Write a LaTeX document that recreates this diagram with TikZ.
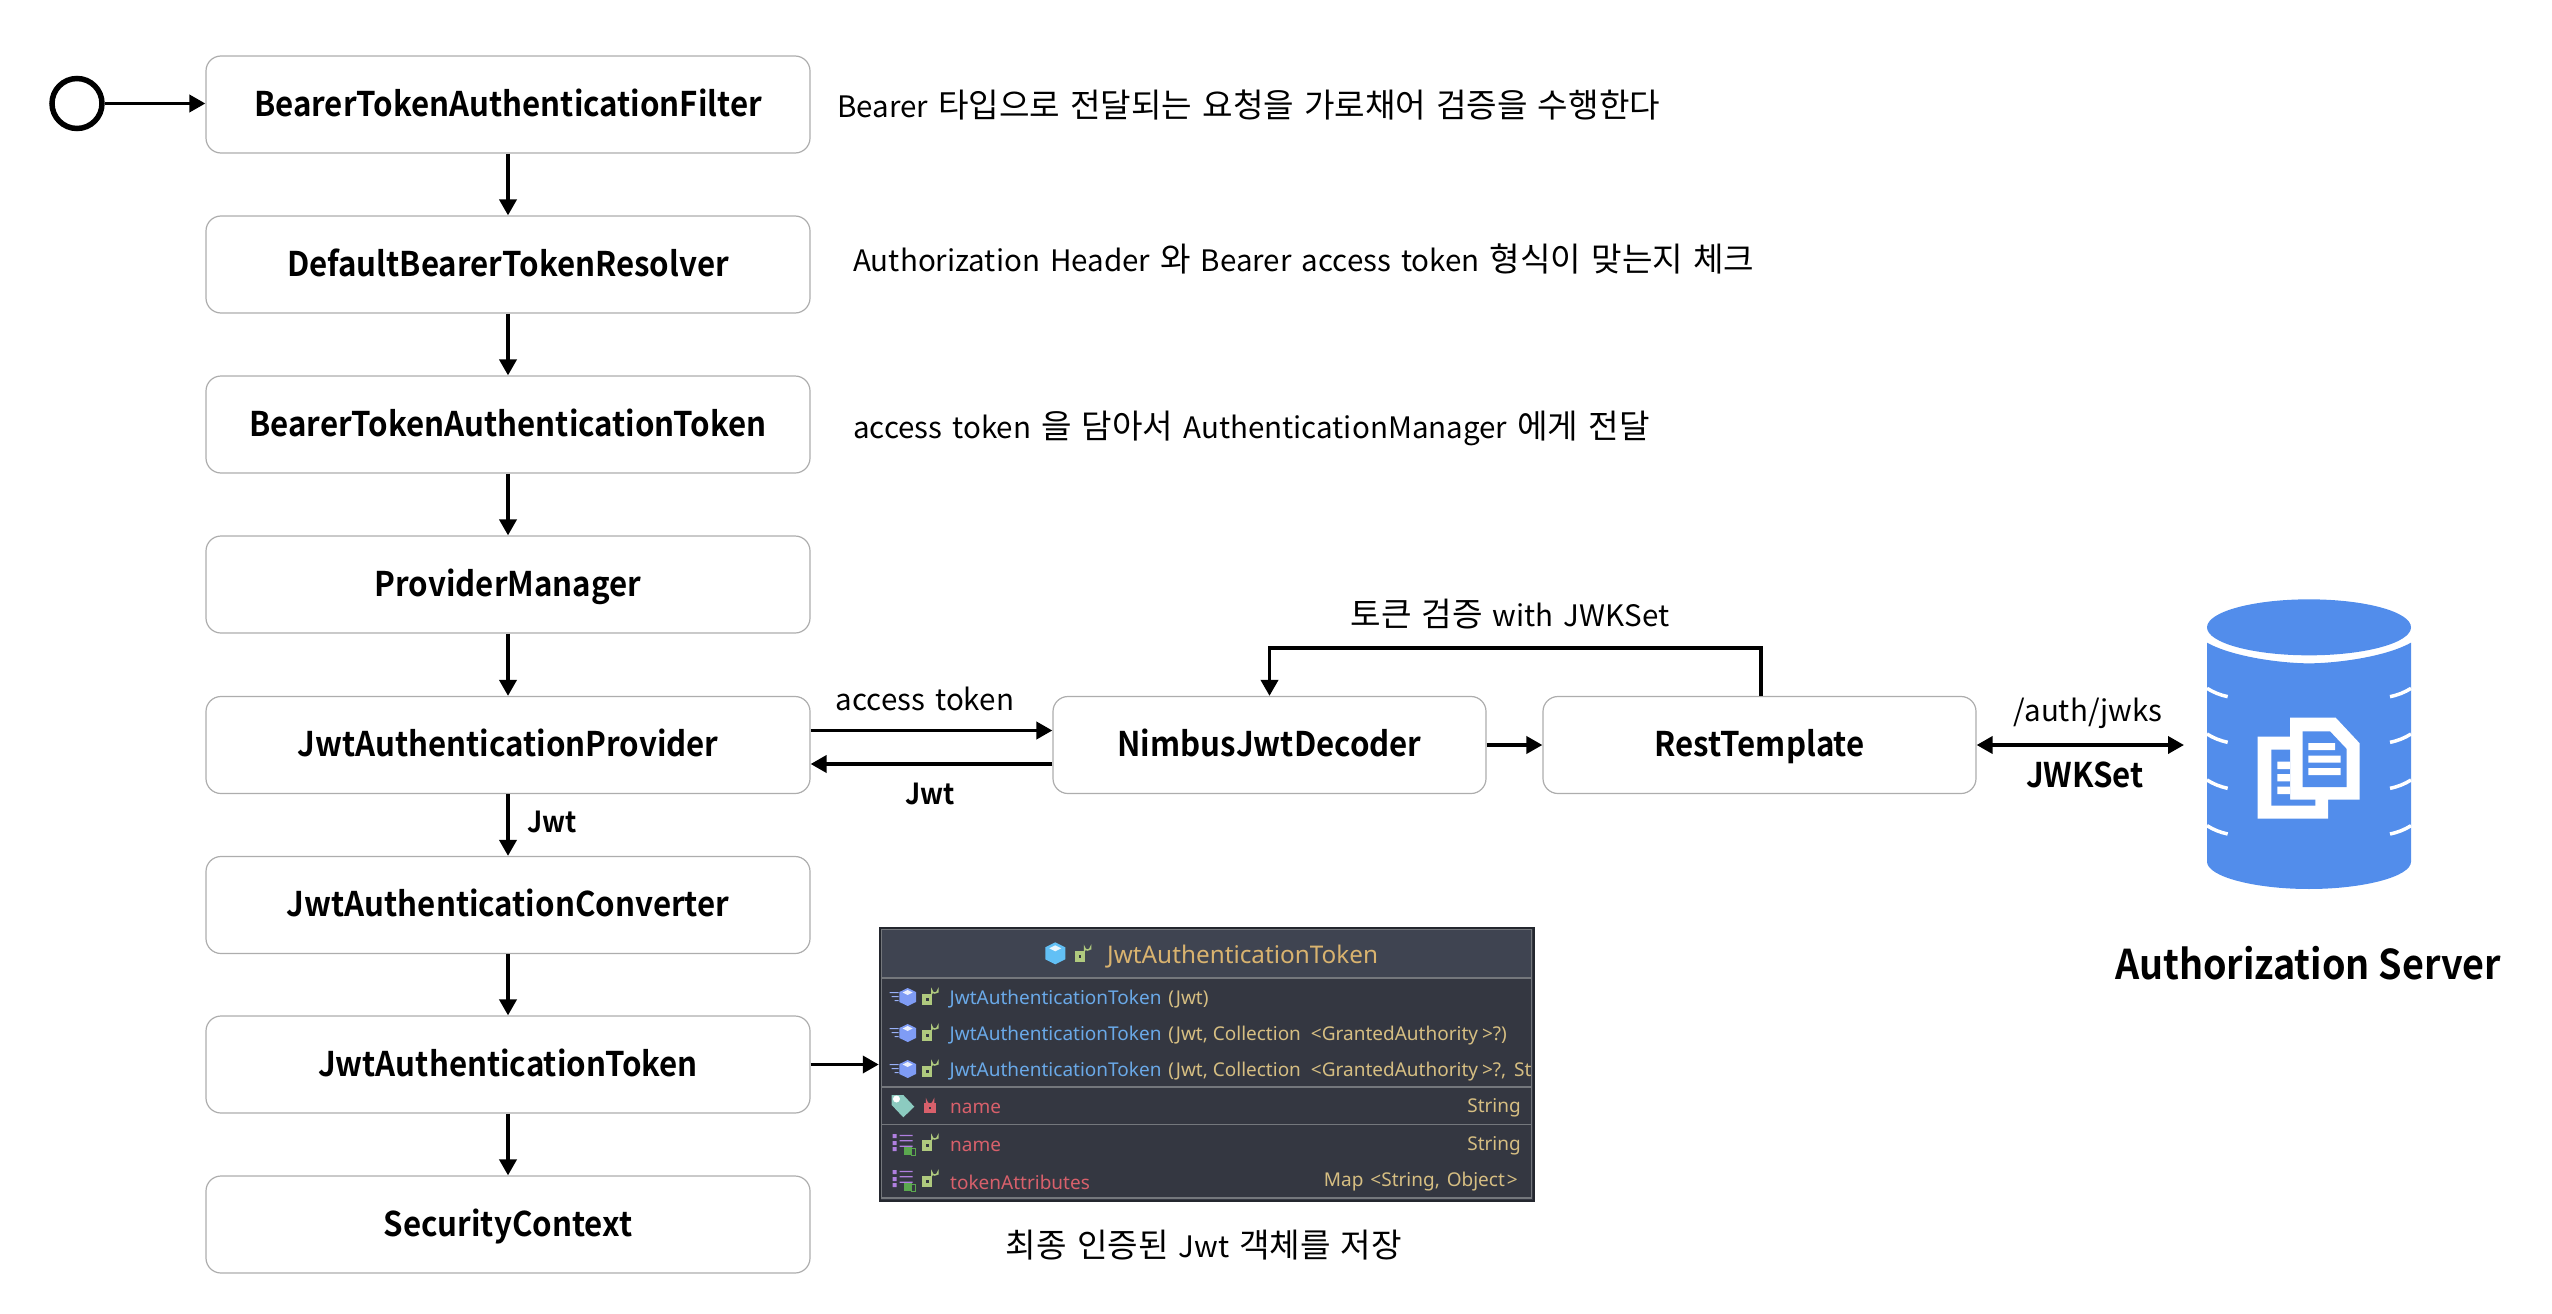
\documentclass[tikz,border=0pt]{standalone}
\usepackage{fontspec}
\setmainfont{Noto Sans CJK KR}
\newfontfamily\latf[Scale=0.89]{Noto Sans CJK KR}
\newfontfamily\bfam[FakeStretch=0.92]{Noto Sans CJK KR Bold}
\newfontfamily\panelfont{Noto Sans}
\usetikzlibrary{arrows.meta,calc}
\definecolor{dbblue}{HTML}{528DEB}
\definecolor{panelbody}{HTML}{343741}
\definecolor{panelhead}{HTML}{3F4451}
\definecolor{panelline}{HTML}{74777C}
\definecolor{ctor}{HTML}{6AA9E8}
\definecolor{tanc}{HTML}{D6BE82}
\definecolor{fieldred}{HTML}{D8606B}
\definecolor{titletan}{HTML}{D9B36F}
\definecolor{lockgreen}{HTML}{AFC97E}
\definecolor{cubea}{HTML}{62C0F5}
\definecolor{cubeb}{HTML}{7F9CF5}
\definecolor{purplei}{HTML}{B07FE0}
\definecolor{greeni}{HTML}{5BA84F}
\definecolor{tagc}{HTML}{8CCBC0}
\newcommand{\regsize}{\fontsize{33.2}{38}\selectfont\spaceskip=10pt\relax}
\newcommand{\boldsize}{\bfam\fontsize{34}{40}\selectfont}
\newcommand{\La}[1]{{\latf #1}}
\tikzset{
  flowbox/.style={draw=black!32,line width=1.2pt,rounded corners=15pt,fill=white,minimum width=604pt,minimum height=97pt,inner sep=0pt,font=\boldsize,text height=29pt,text depth=6pt},
  widebox/.style={flowbox,minimum width=433pt},
  arr/.style={line width=3.7pt,-{Triangle[length=16pt,width=17pt]}},
  dblarr/.style={line width=3.7pt,{Triangle[length=16pt,width=17pt]}-{Triangle[length=16pt,width=17pt]}},
  note/.style={font=\regsize,inner sep=0pt,anchor=west},
  lab/.style={font=\regsize,inner sep=0pt},
  blab/.style={font=\boldsize,inner sep=0pt},
  ptext/.style={font=\panelfont\fontsize{19}{22}\selectfont,inner sep=0pt},
  plock/.pic={
    \fill[#1] (0,0) rectangle (10,10.5);
    \fill[panelbody] (3.8,3.5) rectangle (6.2,6.5);
    \draw[#1,line width=1.5pt] (9.5,0) -- (9.5,-3.5) arc (180:0:3 and 2.5) -- (15.5,-1.5);
  },
  predlock/.pic={
    \fill[fieldred] (0,0) rectangle (12,10);
    \fill[panelbody] (5,3.5) rectangle (7,6);
    \draw[fieldred,line width=1.5pt] (2.5,0) -- (2.5,-2) arc (180:0:3.5 and 3) -- (9.5,0);
  },
  pcube/.pic={
    \fill[#1] (0,-11) -- (10,-6) -- (10,6) -- (0,11) -- (-10,6) -- (-10,-6) -- cycle;
    \fill[white,opacity=.85] (0,-8) -- (6,-5) -- (0,-2) -- (-6,-5) -- cycle;
  },
  pmeth/.pic={
    \fill[cubeb] (0,-9) -- (8.3,-5) -- (8.3,5) -- (0,9) -- (-8.3,5) -- (-8.3,-5) -- cycle;
    \fill[white,opacity=.85] (0,-7) -- (5,-4.5) -- (0,-2) -- (-5,-4.5) -- cycle;
    \fill[cubeb!80!white] (-18,-5) rectangle (-9,-3.8) (-16,-1) rectangle (-9,.2) (-13,3) rectangle (-9,4.2);
  },
  plist/.pic={
    \fill[purplei] (0,0) rectangle (4,4) (7,.8) rectangle (20,2.2) (7,6) rectangle (20,7.4) (0,7) rectangle (4,11) (0,13) rectangle (4,17) (7,11.5) rectangle (20,12.9);
    \fill[greeni] (11,13) rectangle (19,21);
    \draw[greeni,line width=.8pt] (19,14) rectangle (23,21);
  },
}
\begin{document}
\begin{tikzpicture}[x=1pt,y=-1pt]
\useasboundingbox (0,0) rectangle (2552,1314);
% flow boxes
\node[flowbox] (b1) at (508,104.5) {BearerTokenAuthenticationFilter};
\node[flowbox] (b2) at (508,264.5) {DefaultBearerTokenResolver};
\node[flowbox] (b3) at (508,424.5) {BearerTokenAuthenticationToken};
\node[flowbox] (b4) at (508,584.5) {ProviderManager};
\node[flowbox] (b5) at (508,745) {JwtAuthenticationProvider};
\node[flowbox] (b6) at (508,905) {JwtAuthenticationConverter};
\node[flowbox] (b7) at (508,1064.5) {JwtAuthenticationToken};
\node[flowbox] (b8) at (508,1224.5) {SecurityContext};
\node[widebox] (dec) at (1269.5,745) {NimbusJwtDecoder};
\node[widebox] (rest) at (1759.5,745) {RestTemplate};
% start circle
\node[draw,circle,line width=5.5pt,minimum size=50pt,inner sep=0pt] (start) at (77,103.5) {};
\draw[arr] (start) -- (start-|b1.west);
\foreach \a/\b in {b1/b2,b2/b3,b3/b4,b4/b5,b5/b6,b6/b7,b7/b8}{\draw[arr] (\a) -- (\b);}
% horizontal connectors
\draw[arr] ([yshift=14.5pt]b5.east) -- ([yshift=14.5pt]dec.west);
\draw[arr] ([yshift=-19pt]dec.west) -- ([yshift=-19pt]b5.east);
\draw[arr] (dec) -- (rest);
\coordinate (revTop) at (1761,648);
\draw[arr] (rest.north-|revTop) -- (revTop) -| (dec.north);
\coordinate (dbleft) at (2184,745);
\draw[dblarr] (rest) -- (dbleft);
% notes
\node[note] (n1) at (837,105) {\La{Bearer} 타입으로 전달되는 요청을 가로채어 검증을 수행한다};
\node[note] (n2) at (853,259) {\La{Authorization} \La{Header} 와 \La{Bearer} \La{access} \La{token} 형식이 맞는지 체크};
\node[note] (n3) at (853,428) {\La{access} \La{token} 을 담아서 \La{AuthenticationManager} 에게 전달};
\node[lab] (l1) at (1510,614) {토큰 검증 \La{with} \La{JWKSet}};
\node[lab] (l2) at (925,699) {\La{access} \La{token}};
\node[blab,font=\bfam\fontsize{29}{34}\selectfont] (l3) at (930,794) {Jwt};
\node[blab,font=\bfam\fontsize{29}{34}\selectfont] (l4) at (552,822) {Jwt};
\node[lab] (l5) at (2088,713) {\La{/auth/jwks}};
\node[blab] (l6) at (2085,775) {JWKSet};
\node[blab,font=\bfam\fontsize{41}{46}\selectfont] (l7) at (2308,963) {Authorization Server};
\node[lab] (l8) at (1204,1245) {최종 인증된 \La{Jwt} 객체를 저장};
% database
\begin{scope}[shift={(2150,570)},scale=0.33333]
  \fill[dbblue] (477,172) ellipse (306 and 84);
  \fill[dbblue] (171,218) .. controls (250,262) and (400,280) .. (477,280) .. controls (554,280) and (704,262) .. (783,218)
     -- (783,875) .. controls (783,920) and (640,957) .. (477,957) .. controls (314,957) and (171,920) .. (171,875) -- cycle;
  \foreach \yy in {355,492,630,767}{
    \draw[white,line width=3.5pt] (171,\yy) .. controls (190,\yy+12) and (210,\yy+20) .. (233,\yy+25);
    \draw[white,line width=3.5pt] (783,\yy) .. controls (764,\yy+12) and (744,\yy+20) .. (720,\yy+25);
  }
  \fill[white] (420,443) -- (557,443) -- (629,520) -- (629,689) -- (534,689) -- (534,746) -- (323,746) -- (323,500) -- (420,500) -- cycle;
  \fill[dbblue] (458,484) -- (540,484) -- (590,537) -- (590,651) -- (458,651) -- cycle;
  \fill[dbblue] (364,539) -- (420,539) -- (420,689) -- (496,689) -- (496,707) -- (364,707) -- cycle;
  \fill[white] (475,519) rectangle (555,540) (475,557) rectangle (572,578) (475,594) rectangle (572,615);
  \fill[white] (382,575) rectangle (420,597) (382,612) rectangle (420,634) (382,650) rectangle (420,672);
\end{scope}
% class panel
\node[draw=panelbody!70!black,line width=2.5pt,fill=panelbody,minimum width=654pt,minimum height=273pt,inner sep=0pt] (panel) at (1207,1064.5) {};
\draw[arr] (b7) -- (panel.west|-b7);
\fill[panelhead] (881,929) rectangle (1531,977);
\foreach \yy in {978,1087,1124.5,1198}{\draw[panelline,line width=1.5pt] (881,\yy) -- (1531,\yy);}
\draw[panelline,line width=1pt] (881,929) rectangle (1531,1198);
\begin{scope}
  \clip (881,929) rectangle (1530,1198);
  \node[ptext,anchor=west,font=\panelfont\fontsize{24.3}{28}\selectfont,text=titletan] (ptitle) at (1107,956.5) {JwtAuthenticationToken};
  \node[ptext,anchor=west] (r1) at (949.5,999) {\textcolor{ctor}{JwtAuthenticationToken}\kern2pt{} \textcolor{tanc}{(Jwt)}};
  \node[ptext,anchor=west] (r2) at (949.5,1036) {\textcolor{ctor}{JwtAuthenticationToken}\kern2pt{} \textcolor{tanc}{(Jwt, Collection\kern5pt{} <GrantedAuthority\kern4pt>?)}};
  \node[ptext,anchor=west] (r3) at (949.5,1072) {\textcolor{ctor}{JwtAuthenticationToken}\kern2pt{} \textcolor{tanc}{(Jwt, Collection\kern5pt{} <GrantedAuthority\kern4pt>?,\kern3pt{} St}};
  \node[ptext,anchor=west,text=fieldred] (r4) at (950,1108) {name};
  \node[ptext,anchor=east,text=tanc] (t4) at (1521,1108) {String};
  \node[ptext,anchor=west,text=fieldred] (r5) at (950,1146) {name};
  \node[ptext,anchor=east,text=tanc] (t5) at (1521,1146) {String};
  \node[ptext,anchor=west,text=fieldred] (r6) at (950,1182) {tokenAttributes};
  \node[ptext,anchor=east,text=tanc] (t6) at (1518,1182) {Map\kern2pt{} <String,\kern2pt{} Object\kern2pt>};
\end{scope}
% panel icons
\pic at (1055.3,953.3) {pcube=cubea};
\pic at (1075,951) {plock=lockgreen};
\foreach \yy in {997,1033,1069}{
  \pic at (907.7,\yy) {pmeth};
  \pic at (922.3,\yy-3) {plock=lockgreen};
}
\fill[tagc] (891.7,1095) -- (903.3,1095) -- (914.3,1106.7) -- (903.3,1117.3) -- (891.7,1105) -- cycle;
\fill[white] (896.5,1099) circle (3.5pt);
\pic at (924,1103) {predlock};
\foreach \yy in {1134,1170}{
  \pic at (892.7,\yy) {plist};
  \pic at (922.3,\yy+6) {plock=lockgreen};
}
\end{tikzpicture}
\end{document}
